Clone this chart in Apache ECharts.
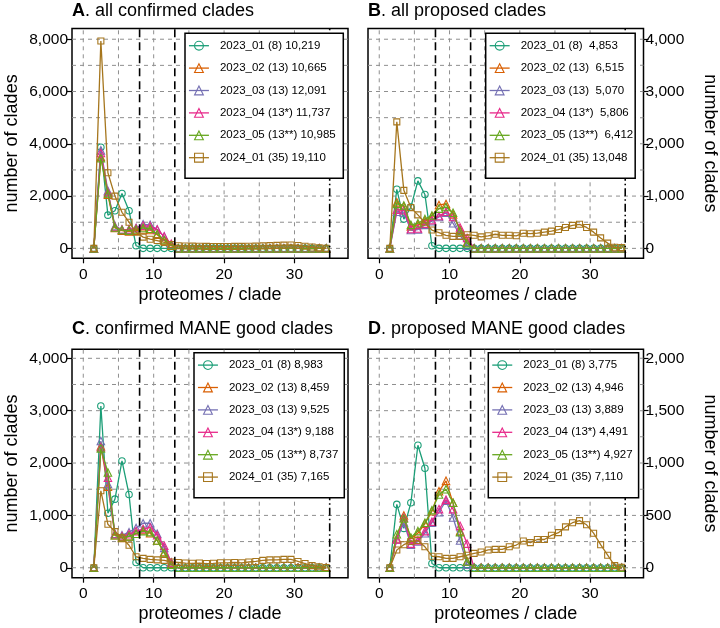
<!DOCTYPE html>
<html><head><meta charset="utf-8">
<script src="https://cdn.jsdelivr.net/npm/echarts@6/dist/echarts.min.js"></script>
<style>html,body{margin:0;padding:0;background:#fff}#c{width:720px;height:628px}</style>
</head><body><div id="c"></div>
<script>
// ---------- data ----------
const proteomes = [1.5,2.5,3.5,4.5,5.5,6.5,7.5,8.5,9.5,10.5,11.5,12.5,13.5,14.5,15.5,16.5,17.5,18.5,19.5,20.5,21.5,22.5,23.5,24.5,25.5,26.5,27.5,28.5,29.5,30.5,31.5,32.5,33.5,34.5];
const colors = ['#1B9E77','#D95F02','#7570B3','#E7298A','#66A61E','#A6761D'];
const symbols = ['circle','triangle','triangle','triangle','triangle','rect'];

const xTicks = [0,10,20,30];
const xGrid = [0,5,10,15,20,25,30];
const cutoffs = [8,13];
const lastCutoff = [35];

const yTicksA = [0,2000,4000,6000,8000];
const yGridA = [0,1000,2000,3000,4000,5000,6000,7000,8000];
const yTicksB = [0,1000,2000,3000,4000];
const yGridB = [0,500,1000,1500,2000,2500,3000,3500,4000];
const yTicksC = [0,1000,2000,3000,4000];
const yGridC = [0,500,1000,1500,2000,2500,3000,3500,4000];
const yTicksD = [0,500,1000,1500,2000];
const yGridD = [0,250,500,750,1000,1250,1500,1750,2000];

const legendA = ['2023_01 (8) 10,219','2023_02 (13) 10,665','2023_03 (13) 12,091','2023_04 (13*) 11,737','2023_05 (13**) 10,985','2024_01 (35) 19,110'];
const legendB = ['2023_01 (8)  4,853','2023_02 (13)  6,515','2023_03 (13)  5,070','2023_04 (13*)  5,806','2023_05 (13**)  6,412','2024_01 (35) 13,048'];
const legendC = ['2023_01 (8) 8,983','2023_02 (13) 8,459','2023_03 (13) 9,525','2023_04 (13*) 9,188','2023_05 (13**) 8,737','2024_01 (35) 7,165'];
const legendD = ['2023_01 (8) 3,775','2023_02 (13) 4,946','2023_03 (13) 3,889','2023_04 (13*) 4,491','2023_05 (13**) 4,927','2024_01 (35) 7,110'];

// A. all confirmed clades
const A_2023_01 = [0,3870,1270,1440,2100,1440,100,0,0,0,0,0,0,0,0,0,0,0,0,0,0,0,0,0,0,0,0,0,0,0,0,0,0,0];
const A_2023_02 = [0,3500,2050,780,680,650,680,720,700,520,300,100,0,0,0,0,0,0,0,0,0,0,0,0,0,0,0,0,0,0,0,0,0,0];
const A_2023_03 = [0,3750,2200,850,720,720,780,920,900,720,450,150,0,0,0,0,0,0,0,0,0,0,0,0,0,0,0,0,0,0,0,0,0,0];
const A_2023_04 = [0,3650,2150,820,720,720,770,870,850,720,450,180,0,0,0,0,0,0,0,0,0,0,0,0,0,0,0,0,0,0,0,0,0,0];
const A_2023_05 = [0,3450,2100,800,700,680,720,780,750,550,320,120,0,0,0,0,0,0,0,0,0,0,0,0,0,0,0,0,0,0,0,0,0,0];
const A_2024_01 = [0,7930,2890,2000,1380,1000,620,430,350,300,230,150,100,90,85,80,75,70,70,70,75,75,80,85,95,105,115,125,130,110,80,50,20,5];

// B. all proposed clades
const B_2023_01 = [0,1130,560,790,1290,1030,50,0,0,0,0,0,0,0,0,0,0,0,0,0,0,0,0,0,0,0,0,0,0,0,0,0,0,0];
const B_2023_02 = [0,880,800,420,450,530,610,830,850,650,360,120,0,0,0,0,0,0,0,0,0,0,0,0,0,0,0,0,0,0,0,0,0,0];
const B_2023_03 = [0,700,680,350,360,450,520,600,680,480,250,50,0,0,0,0,0,0,0,0,0,0,0,0,0,0,0,0,0,0,0,0,0,0];
const B_2023_04 = [0,740,730,370,380,470,540,620,700,600,400,200,0,0,0,0,0,0,0,0,0,0,0,0,0,0,0,0,0,0,0,0,0,0];
const B_2023_05 = [0,850,820,450,480,560,630,760,790,680,330,100,0,0,0,0,0,0,0,0,0,0,0,0,0,0,0,0,0,0,0,0,0,0];
const B_2024_01 = [0,2420,1110,780,640,490,350,300,250,230,230,260,250,220,240,270,250,250,240,290,280,290,310,330,360,400,440,460,400,310,200,100,20,15];

// C. confirmed MANE good clades
const C_2023_01 = [0,3090,1040,1310,2040,1400,100,0,0,0,0,0,0,0,0,0,0,0,0,0,0,0,0,0,0,0,0,0,0,0,0,0,0,0];
const C_2023_02 = [0,2320,1550,620,570,600,650,720,660,520,300,80,0,0,0,0,0,0,0,0,0,0,0,0,0,0,0,0,0,0,0,0,0,0];
const C_2023_03 = [0,2420,1600,650,620,680,760,850,850,650,380,100,0,0,0,0,0,0,0,0,0,0,0,0,0,0,0,0,0,0,0,0,0,0];
const C_2023_04 = [0,2300,1720,640,600,640,700,740,770,620,420,100,0,0,0,0,0,0,0,0,0,0,0,0,0,0,0,0,0,0,0,0,0,0];
const C_2023_05 = [0,2280,1820,620,580,600,650,700,680,520,280,60,0,0,0,0,0,0,0,0,0,0,0,0,0,0,0,0,0,0,0,0,0,0];
const C_2024_01 = [0,1470,830,690,570,430,210,180,160,150,140,110,100,90,85,90,80,85,95,95,100,95,110,120,140,150,150,160,160,120,80,40,20,5];

// D. proposed MANE good clades
const D_2023_01 = [0,605,376,620,1170,950,40,0,0,0,0,0,0,0,0,0,0,0,0,0,0,0,0,0,0,0,0,0,0,0,0,0,0,0];
const D_2023_02 = [0,280,500,280,330,420,540,730,830,620,350,60,0,0,0,0,0,0,0,0,0,0,0,0,0,0,0,0,0,0,0,0,0,0];
const D_2023_03 = [0,270,430,220,250,330,430,530,640,480,260,30,0,0,0,0,0,0,0,0,0,0,0,0,0,0,0,0,0,0,0,0,0,0];
const D_2023_04 = [0,270,480,230,260,350,440,560,650,560,400,230,0,0,0,0,0,0,0,0,0,0,0,0,0,0,0,0,0,0,0,0,0,0];
const D_2023_05 = [0,320,470,290,350,430,550,700,750,620,340,60,0,0,0,0,0,0,0,0,0,0,0,0,0,0,0,0,0,0,0,0,0,0];
const D_2024_01 = [0,170,220,250,260,200,110,105,90,90,105,120,137,150,170,175,175,200,217,255,240,270,270,310,335,390,430,450,410,330,220,120,20,5];

// ---------- layout ----------
const FONT = '"Liberation Sans", Arial, Helvetica, sans-serif';
const X_MIN = -1.6, X_MAX = 37.6;
const panels = [
  {letter:'A', title:'all confirmed clades', grid:{left:72, top:28.5, width:276, height:229.8}, y:[-380,8410],
   yTicks:yTicksA, yGrid:yGridA, right:false, legend:{left:185, top:33.3, padRight:7.6}, names:legendA,
   data:[A_2023_01,A_2023_02,A_2023_03,A_2023_04,A_2023_05,A_2024_01], titleTop:2},
  {letter:'B', title:'all proposed clades', grid:{left:368, top:28.5, width:276, height:229.8}, y:[-190,4205],
   yTicks:yTicksB, yGrid:yGridB, right:true, legend:{left:485.7, top:33.3, padRight:2}, names:legendB,
   data:[B_2023_01,B_2023_02,B_2023_03,B_2023_04,B_2023_05,B_2024_01], titleTop:2},
  {letter:'C', title:'confirmed MANE good clades', grid:{left:72, top:349.3, width:276, height:228.4}, y:[-190,4172],
   yTicks:yTicksC, yGrid:yGridC, right:false, legend:{left:194, top:352.7, padRight:6}, names:legendC,
   data:[C_2023_01,C_2023_02,C_2023_03,C_2023_04,C_2023_05,C_2024_01], titleTop:320},
  {letter:'D', title:'proposed MANE good clades', grid:{left:368, top:349.3, width:276, height:228.4}, y:[-95,2086],
   yTicks:yTicksD, yGrid:yGridD, right:true, legend:{left:488.3, top:352.7, padRight:6}, names:legendD,
   data:[D_2023_01,D_2023_02,D_2023_03,D_2023_04,D_2023_05,D_2024_01], titleTop:320}
];

const option = {animation:false, backgroundColor:'#fff', title:[], grid:[], xAxis:[], yAxis:[], legend:[], series:[]};
const fmt = v => Number(v).toLocaleString('en-US');
const GRID_STYLE = {type:[4,4], color:'#8f8f8f', width:1};

function refLine(i, pts, style, z) {
  return {type:'line', xAxisIndex:i, yAxisIndex:i, data:pts, symbol:'none', silent:true, z:z,
    lineStyle:Object.assign({}, style), emphasis:{disabled:true}, tooltip:{show:false}};
}

panels.forEach((p, i) => {
  option.title.push({
    text:'{b|' + p.letter + '}. ' + p.title, left:p.grid.left, top:p.titleTop, padding:0,
    textStyle:{fontSize:18, fontWeight:'normal', color:'#000', fontFamily:FONT,
      rich:{b:{fontSize:18, fontWeight:'bold', color:'#000', fontFamily:FONT}}}
  });
  option.grid.push(Object.assign({show:true, borderColor:'#000', borderWidth:1.5, containLabel:false}, p.grid));
  option.xAxis.push({
    type:'value', gridIndex:i, min:X_MIN, max:X_MAX,
    name:'proteomes / clade', nameLocation:'middle', nameGap:27.5,
    nameTextStyle:{fontSize:18, color:'#000', fontFamily:FONT},
    axisLine:{show:false, onZero:false}, splitLine:{show:false},
    axisTick:{show:true, customValues:xTicks, length:5, lineStyle:{color:'#000', width:1.2}},
    axisLabel:{customValues:xTicks, margin:8, fontSize:15.5, color:'#000', fontFamily:FONT}
  });
  option.yAxis.push({
    type:'value', gridIndex:i, min:p.y[0], max:p.y[1], position:p.right ? 'right' : 'left',
    name:'number of clades', nameLocation:'middle', nameGap:p.right ? 57.5 : 50.5,
    nameRotate:p.right ? -90 : 90,
    nameTextStyle:{fontSize:18, color:'#000', fontFamily:FONT},
    axisLine:{show:false, onZero:false}, splitLine:{show:false},
    axisTick:{show:true, customValues:p.yTicks, length:5, lineStyle:{color:'#000', width:1.2}},
    axisLabel:{customValues:p.yTicks, margin:p.right ? 2 : 4, fontSize:15.5, color:'#000', fontFamily:FONT, formatter:fmt}
  });
  option.legend.push({
    data:p.names, left:p.legend.left, top:p.legend.top, orient:'vertical', z:20,
    itemWidth:20, itemHeight:11, itemGap:8.4, padding:[5.4,p.legend.padRight,13.6,3.3],
    borderColor:'#000', borderWidth:1.5, backgroundColor:'#fff', selectedMode:false,
    itemStyle:{borderWidth:1.1}, lineStyle:{width:1.3},
    textStyle:{fontSize:11.5, color:'#000', fontFamily:FONT, lineHeight:14, padding:[0,0,0,6]}
  });
  // dashed grey grid
  xGrid.forEach(v => option.series.push(refLine(i, [[v, p.y[0]], [v, p.y[1]]], GRID_STYLE, 1)));
  p.yGrid.forEach(v => option.series.push(refLine(i, [[X_MIN, v], [X_MAX, v]], GRID_STYLE, 1)));
  // data series
  p.data.forEach((vals, j) => {
    option.series.push({
      type:'line', name:p.names[j], xAxisIndex:i, yAxisIndex:i,
      data:proteomes.map((x, k) => [x, vals[k]]),
      symbol:symbols[j], symbolSize:j === 0 ? 6.5 : (j === 5 ? 6 : 7.5),
      lineStyle:{color:colors[j], width:1.3},
      itemStyle:{color:'rgba(255,255,255,0)', borderColor:colors[j], borderWidth:1.1},
      emphasis:{disabled:true}, silent:true, z:5 + j
    });
  });
  // black cut-off lines
  cutoffs.forEach(v => option.series.push(refLine(i, [[v, p.y[0]], [v, p.y[1]]], {type:[8,5], color:'#000', width:1.6}, 12)));
  lastCutoff.forEach(v => option.series.push(refLine(i, [[v, p.y[0]], [v, p.y[1]]], {type:[8,3,1.5,3], color:'#000', width:1.6}, 12)));
});

const chart = echarts.init(document.getElementById('c'), null, {renderer:'canvas'});
chart.setOption(option);
</script></body></html>
